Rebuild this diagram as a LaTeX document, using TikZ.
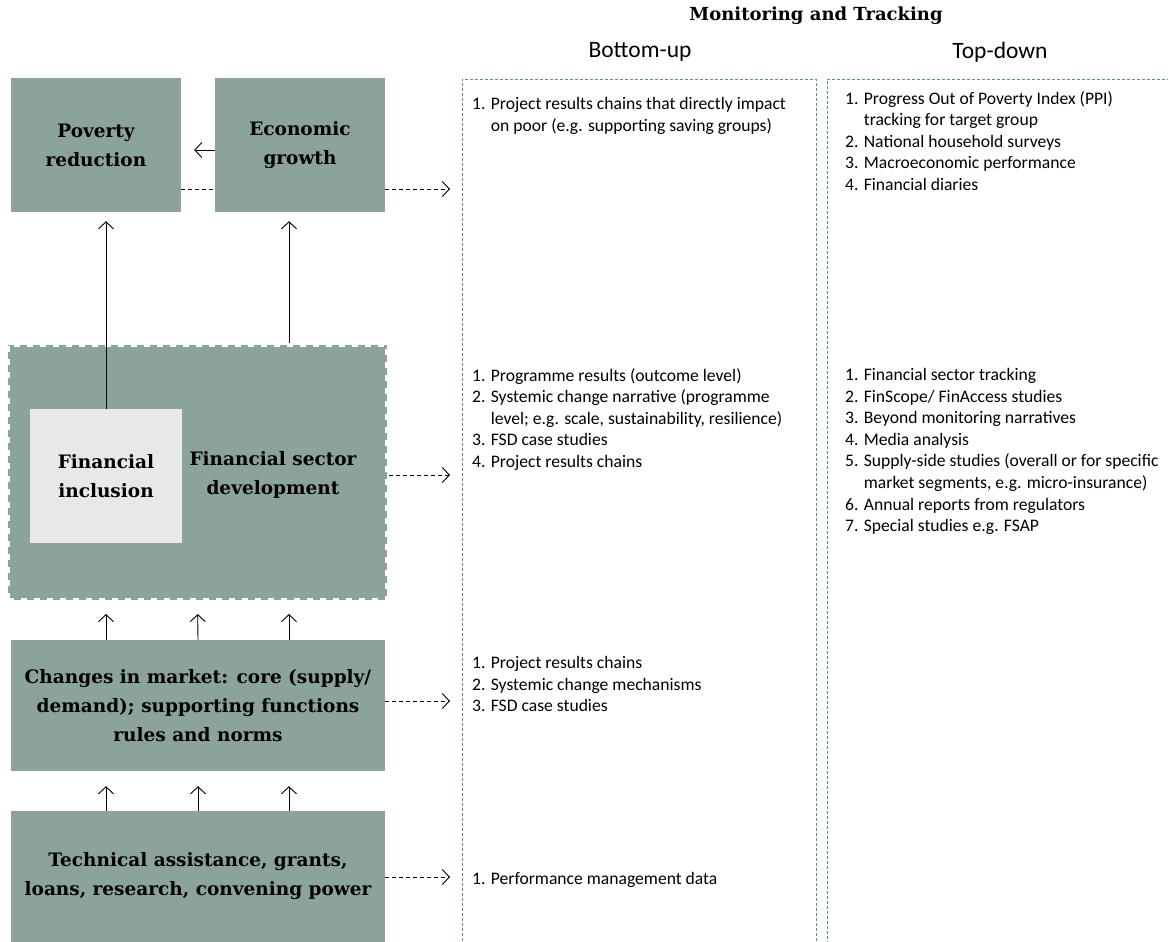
\documentclass[tikz,border=0pt]{standalone}
\usepackage{fontspec}
\setmainfont{Carlito}
\newfontfamily\boxfont{DejaVu Serif}
\usetikzlibrary{arrows.meta,positioning}

\definecolor{boxgreen}{RGB}{139,163,155}
\definecolor{incgrey}{RGB}{232,232,230}
\definecolor{trackline}{RGB}{98,145,130}

% indent for wrapped list items
\newcommand{\cont}{\hphantom{1. }}

\begin{document}
\begin{tikzpicture}[x=1pt,y=-1pt]

    \tikzset{
      stage/.style={
        fill=boxgreen,
        inner sep=0pt,
        align=center,
        font=\boxfont\bfseries\fontsize{18.5}{29}\selectfont,
      },
      sector/.style={
        fill=boxgreen,
        draw=white,
        line width=4pt,
        dash pattern=on 6pt off 7pt,
        inner sep=0pt,
      },
      colbox/.style={
        draw=trackline,
        line width=0.9pt,
        dash pattern=on 3pt off 2pt,
        anchor=north west,
        inner sep=0pt,
      },
      colframe/.style={
        draw=trackline,
        line width=0.9pt,
        dash pattern=on 3pt off 2pt,
      },
      list/.style={
        anchor=north west,
        align=left,
        inner sep=0pt,
        font=\fontsize{17.6}{21.6}\selectfont,
      },
      flow/.style={-{Straight Barb[length=7pt,width=15pt]},line width=0.9pt},
      track/.style={dash pattern=on 4pt off 3pt,line width=0.9pt},
    }
    \useasboundingbox (0,0) rectangle (1168,942);
    \clip (0,0) rectangle (1168,942);

	% results chain on the left
	\node[stage,minimum width=170pt,minimum height=134pt] (pov) at (96,145) {Poverty\\reduction};
	\node[stage,minimum width=170pt,minimum height=134pt] (eco) at (300,145) {Economic\\growth};
	\node[sector,minimum width=379pt,minimum height=255pt] (fsd) at (197.5,472.5) {};
	\node[stage,fill=incgrey,minimum width=152pt,minimum height=134pt] (fin) at (106,476) {Financial\\inclusion};
	\node[stage,fill=none] (fsdtext) at (273,475) {Financial sector\\development};
	\node[stage,minimum width=374pt,minimum height=131pt] (chg) at (198,705.5) {Changes in market: core (supply/\\demand); supporting functions\\rules and norms};
	\node[stage,minimum width=374pt,minimum height=131pt] (tech) at (198,876.5) {Technical assistance, grants,\\loans, research, convening power};
	\coordinate (rcol) at (289,0);

	\draw[flow,shorten >=13pt] ([yshift=-5pt]eco.west) -- ([yshift=-5pt]pov.east);
	\draw[flow,shorten >=9pt] (fin.north) -- (fin.north |- pov.south);
	\draw[flow,shorten >=9pt] (fsd.north -| rcol) -- (eco.south -| rcol);
	\draw[flow,shorten >=12pt] (chg.north -| fin.north) -- (fsd.south -| fin.north);
	\draw[flow,shorten >=12pt] (chg.north) -- (fsd.south);
	\draw[flow,shorten >=12pt] (chg.north -| rcol) -- (fsd.south -| rcol);
	\draw[flow,shorten >=15pt] (tech.north -| fin.north) -- (chg.south -| fin.north);
	\draw[flow,shorten >=15pt] (tech.north) -- (chg.south);
	\draw[flow,shorten >=15pt] (tech.north -| rcol) -- (chg.south -| rcol);

	% monitoring columns
	\node[font=\boxfont\bfseries\fontsize{18}{22}\selectfont] (title) at (816,16) {Monitoring and Tracking};
	\node[font=\fontsize{23.5}{26}\selectfont] (bottomup) at (640,52) {Bottom-up};
	\node[font=\fontsize{23.5}{26}\selectfont] (topdown) at (1000,52) {Top-down};
	\node[colbox,minimum width=354pt,minimum height=863pt] (bu) at (462,79) {};
	\draw[colframe] (1180,79) -| (827,942.5) -- (1180,942.5);

	\draw[track] (pov.east |- 0,189) -- (eco.west |- 0,189);
	\draw[track,flow,shorten >=12pt] (eco.east |- 0,189) -- (bu.west |- 0,189);
	\draw[track,flow,shorten >=12pt] (fsd.east |- 0,475) -- (bu.west |- 0,475);
	\draw[track,flow,shorten >=12pt] (chg.east |- 0,701) -- (bu.west |- 0,701);
	\draw[track,flow,shorten >=12pt] (tech.east |- 0,877) -- (bu.west |- 0,877);

	\node[list] (bu1) at (472,97) {1. Project results chains that directly impact\\\cont on poor (e.g. supporting saving groups)};
	\node[list] (td1) at (845,91) {1. Progress Out of Poverty Index (PPI)\\\cont tracking for target group\\2. National household surveys\\3. Macroeconomic performance\\4. Financial diaries};
	\node[list] (bu2) at (472,368) {1. Programme results (outcome level)\\2. Systemic change narrative (programme\\\cont level; e.g. scale, sustainability, resilience)\\3. FSD case studies\\4. Project results chains};
	\node[list] (td2) at (845,368) {1. Financial sector tracking\\2. FinScope/ FinAccess studies\\3. Beyond monitoring narratives\\4. Media analysis\\5. Supply-side studies (overall or for specific\\\cont market segments, e.g. micro-insurance)\\6. Annual reports from regulators\\7. Special studies e.g. FSAP};
	\node[list] (bu3) at (472,656) {1. Project results chains\\2. Systemic change mechanisms\\3. FSD case studies};
	\node[list] (bu4) at (472,872) {1. Performance management data};

\end{tikzpicture}
\end{document}
